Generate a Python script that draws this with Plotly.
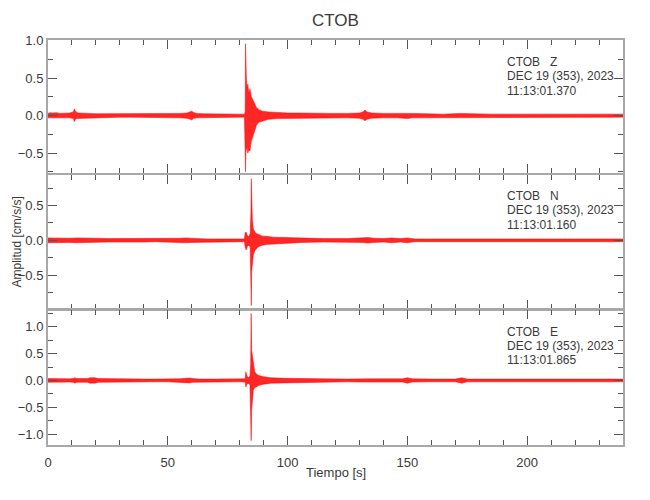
import plotly.graph_objects as go

# ---------------- data (envelopes) ----------------
# Z component (top panel)
t_z = [0, 1, 2, 3.5, 5, 7, 9, 10.6, 11.0, 11.3, 11.7, 12.5, 14, 17, 20, 25, 30, 35, 40,
       45, 50, 55, 58, 59.5, 60.0, 60.6, 62, 65, 70, 75, 80, 82.0, 82.3, 82.45, 82.6,
       82.8, 83.1, 83.4, 83.8, 84.3, 84.8, 85.3, 85.8, 86.4, 87.0, 88.0, 89.5, 92.0,
       96.0, 100, 105, 110, 118, 125, 130, 131.5, 132.3, 133.2, 135, 140, 146, 150,
       152, 158, 165, 172, 176, 185, 195, 205, 215, 225, 235, 240]
up_z = [0.03, 0.04, 0.035, 0.04, 0.03, 0.03, 0.035, 0.05, 0.09, 0.07, 0.05, 0.035, 0.03,
        0.03, 0.025, 0.025, 0.02, 0.02, 0.02, 0.02, 0.025, 0.03, 0.035, 0.05, 0.06, 0.045,
        0.03, 0.025, 0.02, 0.02, 0.02, 0.02, 0.05, 0.96, 0.52, 0.5, 0.36, 0.42, 0.3, 0.36,
        0.26, 0.22, 0.18, 0.14, 0.11, 0.08, 0.06, 0.05, 0.04, 0.035, 0.035, 0.03, 0.03,
        0.03, 0.035, 0.05, 0.075, 0.05, 0.035, 0.03, 0.03, 0.04, 0.03, 0.025, 0.02, 0.03,
        0.025, 0.02, 0.02, 0.02, 0.02, 0.02, 0.02, 0.02]
lo_z = [-0.03, -0.035, -0.035, -0.04, -0.03, -0.03, -0.03, -0.04, -0.08, -0.06, -0.04,
        -0.03, -0.03, -0.03, -0.025, -0.025, -0.02, -0.02, -0.02, -0.02, -0.025, -0.03,
        -0.035, -0.05, -0.06, -0.04, -0.03, -0.025, -0.02, -0.02, -0.02, -0.02, -0.05,
        -0.75, -0.5, -0.45, -0.42, -0.5, -0.46, -0.47, -0.35, -0.3, -0.25, -0.2, -0.13,
        -0.09, -0.07, -0.05, -0.04, -0.035, -0.035, -0.03, -0.03, -0.03, -0.035, -0.05,
        -0.067, -0.05, -0.035, -0.03, -0.03, -0.04, -0.03, -0.025, -0.02, -0.03, -0.025,
        -0.02, -0.02, -0.02, -0.02, -0.02, -0.02, -0.02]

# N component (middle panel)
t_n = [0, 3, 6, 9, 12, 15, 18, 20, 25, 30, 35, 40, 45, 50, 55, 57.5, 60, 62, 66, 70, 75,
       80, 82.0, 82.3, 82.7, 83.2, 83.8, 84.4, 84.7, 84.85, 85.0, 85.3, 85.7, 86.3, 87.0,
       88.0, 89.5, 91.0, 94.0, 99.0, 106, 115, 125, 131, 133.5, 136, 140, 143.5, 147,
       150, 153, 160, 170, 180, 190, 200, 210, 220, 230, 240]
up_n = [0.035, 0.03, 0.035, 0.03, 0.035, 0.03, 0.035, 0.03, 0.025, 0.025, 0.02, 0.025,
        0.02, 0.02, 0.03, 0.035, 0.03, 0.02, 0.02, 0.02, 0.02, 0.02, 0.02, 0.11, 0.12,
        0.07, 0.05, 0.1, 0.4, 0.89, 0.42, 0.3, 0.17, 0.12, 0.1, 0.08, 0.06, 0.06, 0.045,
        0.04, 0.03, 0.025, 0.025, 0.03, 0.04, 0.03, 0.025, 0.035, 0.025, 0.035, 0.02, 0.02,
        0.02, 0.02, 0.02, 0.02, 0.02, 0.02, 0.02, 0.02]
lo_n = [-0.035, -0.03, -0.035, -0.03, -0.035, -0.03, -0.035, -0.03, -0.025, -0.025, -0.02,
        -0.025, -0.02, -0.02, -0.03, -0.035, -0.03, -0.02, -0.02, -0.02, -0.02, -0.02,
        -0.02, -0.1, -0.14, -0.09, -0.07, -0.1, -0.3, -0.94, -0.45, -0.35, -0.21, -0.15,
        -0.12, -0.09, -0.07, -0.06, -0.045, -0.04, -0.03, -0.025, -0.025, -0.03, -0.04,
        -0.03, -0.025, -0.035, -0.025, -0.035, -0.02, -0.02, -0.02, -0.02, -0.02, -0.02,
        -0.02, -0.02, -0.02, -0.02]

# E component (bottom panel)
t_e = [0, 3, 6, 9, 10.5, 11.2, 12, 14, 16.5, 17.5, 19.5, 21, 25, 30, 35, 40, 45, 50, 55,
       57.5, 59, 60.5, 63, 70, 75, 80, 82.3, 82.6, 82.9, 83.5, 84.3, 84.6, 84.8, 85.0,
       85.3, 85.7, 86.3, 87.0, 88.0, 90.0, 93.0, 99.0, 106, 115, 125, 131, 133, 135, 142,
       148, 150, 152, 160, 170, 172.7, 175, 185, 195, 205, 215, 225, 235, 240]
up_e = [0.035, 0.03, 0.035, 0.03, 0.035, 0.05, 0.035, 0.03, 0.035, 0.05, 0.05, 0.035, 0.03,
        0.03, 0.025, 0.025, 0.025, 0.025, 0.03, 0.04, 0.045, 0.035, 0.025, 0.025, 0.025,
        0.025, 0.03, 0.16, 0.1, 0.05, 0.08, 0.3, 1.245, 0.56, 0.45, 0.28, 0.16, 0.12, 0.09,
        0.07, 0.05, 0.04, 0.03, 0.03, 0.025, 0.03, 0.04, 0.03, 0.03, 0.03, 0.05, 0.03, 0.025,
        0.025, 0.05, 0.025, 0.025, 0.025, 0.025, 0.025, 0.025, 0.025, 0.025]
lo_e = [-0.035, -0.03, -0.035, -0.03, -0.035, -0.05, -0.035, -0.03, -0.035, -0.05, -0.05,
        -0.035, -0.03, -0.03, -0.025, -0.025, -0.025, -0.025, -0.03, -0.04, -0.045, -0.035,
        -0.025, -0.025, -0.025, -0.025, -0.03, -0.12, -0.08, -0.05, -0.08, -0.3, -1.12,
        -0.55, -0.4, -0.18, -0.13, -0.12, -0.09, -0.07, -0.05, -0.04, -0.03, -0.03, -0.025,
        -0.03, -0.04, -0.03, -0.03, -0.03, -0.05, -0.03, -0.025, -0.025, -0.05, -0.025,
        -0.025, -0.025, -0.025, -0.025, -0.025, -0.025, -0.025]

components = ["Z", "N", "E"]
start_times = ["11:13:01.370", "11:13:01.160", "11:13:01.865"]
station = "CTOB"
date_label = "DEC 19 (353), 2023"
y_ranges = [[-0.77, 1.01], [-0.99, 0.942], [-1.2, 1.31]]
y_ticks = [[-0.5, 0.0, 0.5, 1.0], [-0.5, 0.0, 0.5], [-1.0, -0.5, 0.0, 0.5, 1.0]]
x_ticks = [0, 50, 100, 150, 200]

# ---------------- figure ----------------
FONT = "Liberation Sans, Arial, sans-serif"
TXT = "#3a3a3a"
AXC = "#a8a8a8"

fig = go.Figure()
series = [(t_z, up_z, lo_z), (t_n, up_n, lo_n), (t_e, up_e, lo_e)]
for i, (t, up, lo) in enumerate(series):
    ax = "" if i == 0 else str(i + 1)
    fig.add_trace(go.Scatter(
        x=t + t[::-1], y=up + lo[::-1], mode="lines", fill="toself",
        fillcolor="rgba(255,0,0,0.85)", line=dict(color="#ff0000", width=0.5),
        xaxis="x" + ax, yaxis="y" + ax, hoverinfo="skip", showlegend=False))

domains = [[0.6709, 1.0], [0.3358, 0.6667], [0.0, 0.3333]]
# page body has an 8 px margin, so the figure is sized/offset to compensate
layout = dict(
    width=642, height=492,
    margin=dict(l=40, r=27, t=32, b=55),
    paper_bgcolor="white", plot_bgcolor="white",
    showlegend=False,
    font=dict(family=FONT, size=12, color=TXT),
)
for i in range(3):
    ax = "" if i == 0 else str(i + 1)
    layout["xaxis" + ax] = dict(
        domain=[0, 1], range=[0, 240], anchor="y" + ax, automargin=False,
        tickvals=x_ticks, ticks="inside", ticklen=9, tickwidth=1, tickcolor="#555555",
        minor=dict(dtick=10, ticks="inside", ticklen=5, tickcolor="#555555", showgrid=False),
        showline=True, linecolor=AXC, linewidth=2, mirror="ticks",
        showgrid=False, zeroline=False, showticklabels=(i == 2),
        tickfont=dict(size=13, color=TXT), ticklabelstandoff=4,
        matches=None if i == 0 else "x",
    )
    layout["yaxis" + ax] = dict(
        domain=domains[i], range=y_ranges[i], anchor="x" + ax, automargin=False,
        tickvals=y_ticks[i], tickformat=".1f",
        ticks="inside", ticklen=9, tickwidth=1, tickcolor="#555555",
        minor=dict(dtick=0.25, ticks="inside", ticklen=5, tickcolor="#555555", showgrid=False),
        showline=True, linecolor=AXC, linewidth=2, mirror="ticks",
        showgrid=False, zeroline=False,
        tickfont=dict(size=13, color=TXT),
    )
fig.update_layout(**layout)

ann = []
# title
ann.append(dict(text=station, x=0.5, y=1.0, xref="paper", yref="paper", yshift=20,
                showarrow=False, font=dict(size=17, color=TXT), xanchor="center", yanchor="middle"))
# axis titles
ann.append(dict(text="Tiempo [s]", x=0.5, y=0.0, xref="paper", yref="paper", yshift=-18,
                showarrow=False, font=dict(size=13, color=TXT), xanchor="center", yanchor="top"))
ann.append(dict(text="Amplitud [cm/s/s]", x=0.0, y=0.5, xref="paper", yref="paper", xshift=-32,
                textangle=-90, showarrow=False, font=dict(size=12, color=TXT),
                xanchor="center", yanchor="middle"))
# per-panel station labels (pixel rows from the reference)
label_rows = [[62, 76, 91], [196, 210, 225], [331.5, 345.5, 360]]
for i in range(3):
    lines = [station + "\u00a0\u00a0\u00a0" + components[i], date_label, start_times[i]]
    for txt, ypx in zip(lines, label_rows[i]):
        ann.append(dict(text=txt, x=(505 - 48) / 575.0, y=(445 - ypx) / 405.0,
                        xref="paper", yref="paper", showarrow=False,
                        xanchor="left", yanchor="middle",
                        font=dict(size=12, color=TXT)))
fig.update_layout(annotations=ann)

fig.write_html("out.html")
